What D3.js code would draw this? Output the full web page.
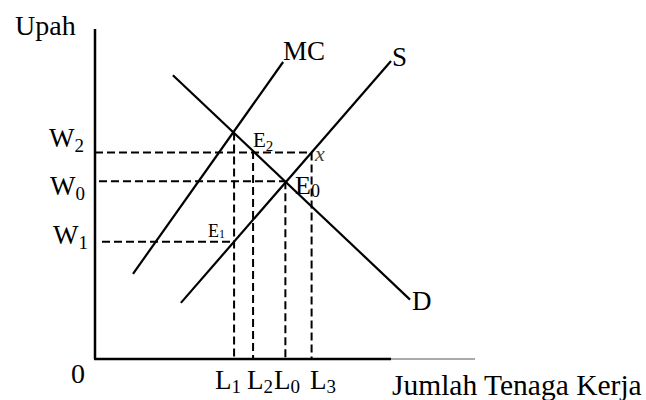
<!DOCTYPE html>
<html>
<head>
<meta charset="utf-8">
<script src="https://cdn.jsdelivr.net/npm/d3@7"></script>
<style>
  body { margin: 0; background: #fff; }
  text { font-family: "Liberation Serif", "Times New Roman", serif; fill: #000; }
</style>
</head>
<body>
<div id="chart"></div>
<script>
// curves in chart units (labour on x, wage on y), both 0..100
var mcLine = [[10, 25.8], [49.5, 90]];
var supplyLine = [[22.6, 17], [77.9, 90.3]];
var demandLine = [[20.5, 86], [82.9, 18]];

// wage levels and labour levels
var wageNames = ["W2", "W0", "W1"];
var wageValues = [62.6, 53.9, 35.5];
var wageEnds = [57.0, 50.1, 36.6];     // where each dashed wage line stops (labour value)
var labourNames = ["L1", "L2", "L0", "L3"];
var labourValues = [36.6, 41.6, 50.1, 57.0];
var labourTops = [68.6, 63.0, 53.9, 62.6];   // where each dashed labour line starts (wage value)

var axisThickEnd = 77.9;

var width = 646, height = 400;

var svg = d3.select("#chart").append("svg")
  .attr("width", width)
  .attr("height", height);

var x = d3.scaleLinear().domain([0, 100]).range([95, 475]);
var y = d3.scaleLinear().domain([0, 100]).range([359, 29]);

var line = d3.line()
  .x(function(d) { return x(d[0]); })
  .y(function(d) { return y(d[1]); });

//dashed guides
wageValues.forEach(function(w, i) {
  svg.append("line")
    .attr("x1", x(0) + [0, 4, 7][i]).attr("x2", x(wageEnds[i]))
    .attr("y1", y(w)).attr("y2", y(w))
    .attr("stroke", "#000").attr("stroke-width", 2)
    .attr("stroke-dasharray", "8,4");
});
labourValues.forEach(function(l, i) {
  svg.append("line")
    .attr("x1", x(l)).attr("x2", x(l))
    .attr("y1", y(labourTops[i])).attr("y2", y(0))
    .attr("stroke", "#000").attr("stroke-width", 2)
    .attr("stroke-dasharray", "8,4");
});

// curves
[mcLine, supplyLine, demandLine].forEach(function(pts) {
  svg.append("path")
    .attr("d", line(pts))
    .attr("fill", "none")
    .attr("stroke", "#000")
    .attr("stroke-width", 2.2);
});

// axes
svg.append("line")
  .attr("x1", x(0)).attr("x2", x(0))
  .attr("y1", y(100)).attr("y2", y(0))
  .attr("stroke", "#000").attr("stroke-width", 2.5);
svg.append("line")
  .attr("x1", x(0) - 1).attr("x2", x(axisThickEnd))
  .attr("y1", y(0)).attr("y2", y(0))
  .attr("stroke", "#000").attr("stroke-width", 2.5);
svg.append("line")
  .attr("x1", x(axisThickEnd)).attr("x2", x(100))
  .attr("y1", y(0)).attr("y2", y(0))
  .attr("stroke", "#555").attr("stroke-width", 1);

// helper for a letter with subscript
function subLabel(px, py, main, sub, size, subSize, drop) {
  var t = svg.append("text")
    .attr("x", px).attr("y", py)
    .style("font-size", size + "px");
  t.append("tspan").text(main);
  if (sub) {
    t.append("tspan")
      .attr("dy", drop)
      .style("font-size", subSize + "px")
      .text(sub);
  }
  return t;
}

svg.append("text").attr("x", 15).attr("y", 35)
  .style("font-size", "28px").text("Upah");

// wage labels, offsets from their dashed lines
var wageLabelPos = [[49, -5], [50, 14], [53, 2]];
wageNames.forEach(function(n, i) {
  subLabel(wageLabelPos[i][0], y(wageValues[i]) + wageLabelPos[i][1], n[0], n[1], 27, 19, 5);
});

svg.append("text").attr("x", 71).attr("y", 383)
  .style("font-size", "28px").text("0");

var labourLabelX = [215, 247, 274, 310];
labourNames.forEach(function(n, i) {
  subLabel(labourLabelX[i], 389, n[0], n[1], 27, 19, 4);
});

svg.append("text").attr("x", 392).attr("y", 395)
  .style("font-size", "29.5px").text("Jumlah Tenaga Kerja");

// curve names at their upper/lower ends
svg.append("text").attr("x", x(mcLine[1][0])).attr("y", 60)
  .style("font-size", "27px").text("MC");
svg.append("text").attr("x", x(supplyLine[1][0]) + 1).attr("y", 66)
  .style("font-size", "27px").text("S");
svg.append("text").attr("x", x(demandLine[1][0]) + 2).attr("y", 310)
  .style("font-size", "27px").text("D");

// equilibrium points
subLabel(253, 147, "E", "2", 21, 15, 4);
subLabel(295, 194, "E", "0", 26, 18, 3);
subLabel(208, 237, "E", "1", 18, 12, 1);
svg.append("text").attr("x", 315).attr("y", 161)
  .style("font-size", "22px").style("font-style", "italic")
  .style("fill", "#444").text("x");
</script>
</body>
</html>
